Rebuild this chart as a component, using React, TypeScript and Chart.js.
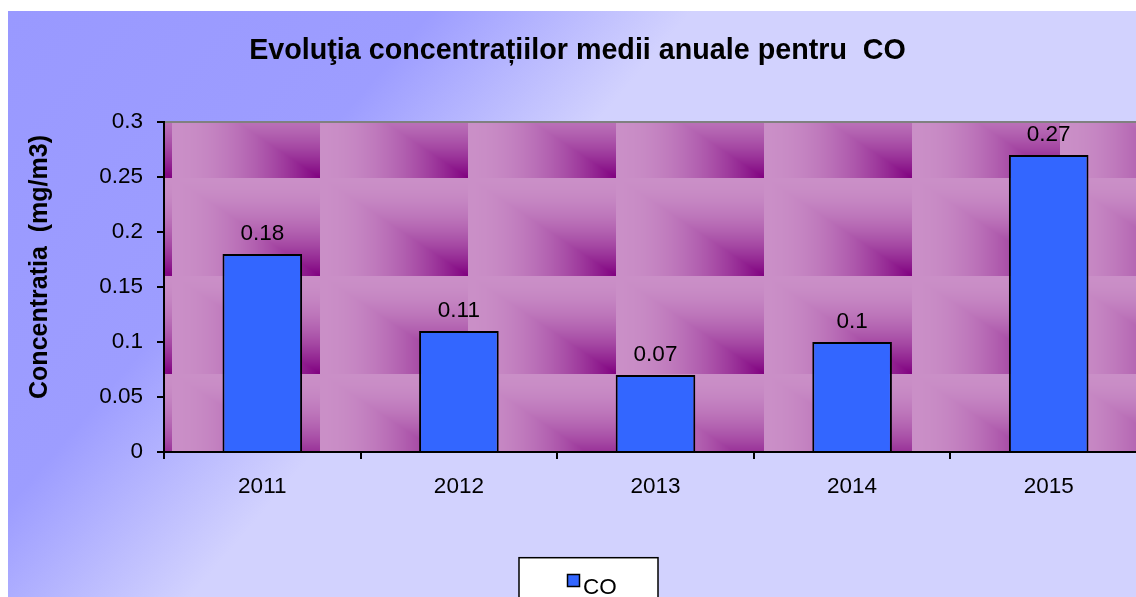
import React, { useEffect, useRef } from 'react';
import { Chart, registerables } from 'chart.js';

Chart.register(...registerables);

// ---- data ----
const chartTitle = 'Evoluţia concentrațiilor medii anuale pentru  CO';
const yAxisTitle = 'Concentratia  (mg/m3)';
const years = ['2011', '2012', '2013', '2014', '2015'];
const seriesName = 'CO';
const coValues = [0.18, 0.11, 0.07, 0.1, 0.27];
const yTickLabels = ['0', '0.05', '0.1', '0.15', '0.2', '0.25', '0.3'];

const FONT = '"Liberation Sans", Arial, Helvetica, sans-serif';
const W = 1161;
const H = 620;

function makeTile(w: number, h: number): HTMLCanvasElement {
  const c = document.createElement('canvas');
  c.width = w;
  c.height = h;
  const g = c.getContext('2d')!;
  const img = g.createImageData(w, h);
  const light = [202, 143, 199];
  const dark = [128, 0, 128];
  for (let y = 0; y < h; y++) {
    for (let x = 0; x < w; x++) {
      const u = (x + 0.5) / w;
      const v = (y + 0.5) / h;
      const t = Math.pow(Math.min(u, v), 1.9);
      const i = (y * w + x) * 4;
      img.data[i] = light[0] + (dark[0] - light[0]) * t;
      img.data[i + 1] = light[1] + (dark[1] - light[1]) * t;
      img.data[i + 2] = light[2] + (dark[2] - light[2]) * t;
      img.data[i + 3] = 255;
    }
  }
  g.putImageData(img, 0, 0);
  return c;
}

export default function App() {
  const ref = useRef<HTMLCanvasElement | null>(null);

  useEffect(() => {
    if (!ref.current) return;
    const tile = makeTile(148, 98);

    const decor = {
      id: 'decor',
      beforeDraw(chart: any) {
        const ctx = chart.ctx as CanvasRenderingContext2D;
        const { left, top, right, bottom } = chart.chartArea;
        ctx.save();
        // outer background gradient
        const grad = ctx.createLinearGradient(0, 0, 395, 338);
        grad.addColorStop(0, '#9999FF');
        grad.addColorStop(0.62, '#9D9DFF');
        grad.addColorStop(1, '#D2D2FE');
        ctx.fillStyle = grad;
        ctx.fillRect(0, 0, chart.width, chart.height);
        // plot area tiled texture
        ctx.beginPath();
        ctx.rect(left, top, right - left, bottom - top);
        ctx.clip();
        const x0 = left - 140;
        const y0 = top - 42.3;
        for (let y = y0; y < bottom; y += 98) {
          for (let x = x0; x < right; x += 148) {
            ctx.drawImage(tile, x, y);
          }
        }
        ctx.restore();
        // plot border (top / right)
        ctx.save();
        ctx.strokeStyle = '#808080';
        ctx.lineWidth = 2;
        ctx.strokeRect(left, top, right - left, bottom - top);
        ctx.restore();
      },
      afterDraw(chart: any) {
        const ctx = chart.ctx as CanvasRenderingContext2D;
        ctx.save();
        // title
        ctx.fillStyle = '#000';
        ctx.font = `bold 28.7px ${FONT}`;
        ctx.textAlign = 'center';
        ctx.textBaseline = 'alphabetic';
        ctx.fillText(chartTitle, 569.5, 47.5);
        // y axis title
        ctx.save();
        ctx.translate(38.9, 256);
        ctx.rotate(-Math.PI / 2);
        ctx.font = `bold 25px ${FONT}`;
        ctx.textAlign = 'center';
        ctx.fillText(yAxisTitle, 0, 0);
        ctx.restore();
        // legend
        const ds = chart.data.datasets[0];
        const bx = 511;
        const by = 546.7;
        ctx.fillStyle = '#FFFFFF';
        ctx.fillRect(bx, by, 139, 120);
        ctx.strokeStyle = '#000';
        ctx.lineWidth = 1.5;
        ctx.strokeRect(bx, by, 139, 120);
        ctx.fillStyle = ds.backgroundColor;
        ctx.fillRect(bx + 48.5, by + 16.8, 12, 12);
        ctx.strokeStyle = '#000';
        ctx.lineWidth = 1.5;
        ctx.strokeRect(bx + 48.5, by + 16.8, 12, 12);
        ctx.fillStyle = '#000';
        ctx.font = `22.5px ${FONT}`;
        ctx.textAlign = 'left';
        ctx.fillText(ds.label, bx + 64, by + 35.8);
        ctx.restore();
      },
      afterDatasetsDraw(chart: any) {
        const ctx = chart.ctx as CanvasRenderingContext2D;
        const meta = chart.getDatasetMeta(0);
        const vals = chart.data.datasets[0].data as number[];
        ctx.save();
        ctx.fillStyle = '#000';
        ctx.font = `22.5px ${FONT}`;
        ctx.textAlign = 'center';
        ctx.textBaseline = 'alphabetic';
        meta.data.forEach((bar: any, i: number) => {
          ctx.fillText(String(vals[i]), bar.x, bar.y - 14);
        });
        ctx.restore();
      },
    };

    const chart = new Chart(ref.current, {
      type: 'bar',
      data: {
        labels: years,
        datasets: [
          {
            label: seriesName,
            data: coValues,
            backgroundColor: '#3366FF',
            borderColor: '#000000',
            borderWidth: 2,
            categoryPercentage: 1,
            barPercentage: 0.405,
          },
        ],
      },
      options: {
        responsive: false,
        animation: false,
        devicePixelRatio: 1,
        layout: { padding: { top: 111, left: 0, right: 22, bottom: 119 } },
        plugins: {
          legend: { display: false },
          title: { display: false },
          tooltip: { enabled: false },
        },
        scales: {
          x: {
            afterFit: (s: any) => {
              s.height = 60;
            },
            grid: {
              display: true,
              drawOnChartArea: false,
              drawTicks: true,
              tickLength: 7,
              color: '#000',
              lineWidth: 2,
              offset: true,
            },
            border: { display: true, color: '#000', width: 2 },
            ticks: {
              color: '#000',
              font: { family: FONT, size: 22.5 },
              padding: 14,
              maxRotation: 0,
            },
          },
          y: {
            min: 0,
            max: 0.3,
            afterFit: (s: any) => {
              s.width = 156;
            },
            grid: {
              display: true,
              drawOnChartArea: false,
              drawTicks: true,
              tickLength: 7,
              color: '#000',
              lineWidth: 2,
            },
            border: { display: true, color: '#000', width: 2 },
            ticks: {
              stepSize: 0.05,
              color: '#000',
              font: { family: FONT, size: 22.5 },
              padding: 14,
              callback: (_v: any, i: number) => yTickLabels[i],
            },
          },
        },
      },
      plugins: [decor],
    });

    return () => chart.destroy();
  }, []);

  return (
    <div
      style={{
        position: 'fixed',
        left: 8,
        top: 11,
        width: 1128,
        height: 586,
        overflow: 'hidden',
      }}
    >
      <canvas ref={ref} width={W} height={H} style={{ display: 'block', width: W, height: H }} />
    </div>
  );
}
